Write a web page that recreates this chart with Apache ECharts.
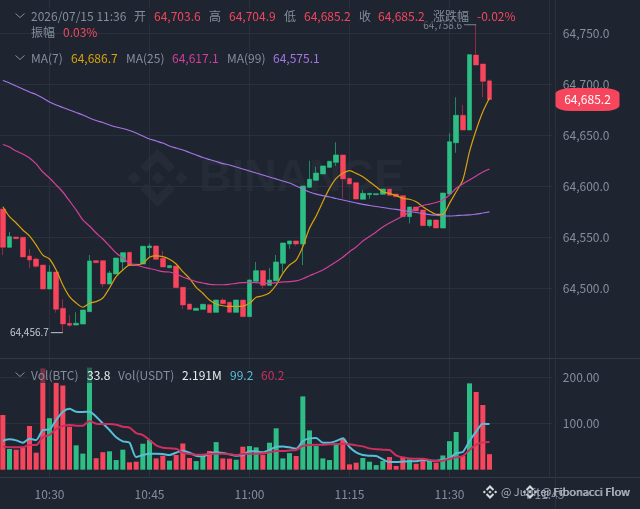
<!DOCTYPE html>
<html><head><meta charset="utf-8">
<style>html,body{margin:0;padding:0;background:#1e2530}#c{width:640px;height:509px}</style>
<script src="https://cdn.jsdelivr.net/npm/echarts@6/dist/echarts.min.js"></script>
</head><body><div id="c"></div>
<script>
const opens=[64577.9,64540.4,64550.5,64550.2,64531.9,64528.9,64523,64499.5,64516.2,64480.6,
64465.9,64464.2,64465.2,64477.3,64527.3,64527.3,64504.4,64514.2,64526,64535.5,
64524,64524,64540,64541.7,64529.6,64520.4,64522,64501.2,64484.8,64478.6,
64479.6,64484.1,64476.7,64488.7,64486.5,64476.7,64488.7,64472.4,64507.1,64517.5,
64503.1,64507.6,64524.7,64543.6,64546.6,64543.6,64599.2,64606.1,64612.3,64618.8,
64623.7,64630.9,64608,64603.7,64587.5,64592,64592,64592.4,64597.5,64592.6,
64591,64570.4,64579.9,64577,64561.6,64567.2,64559.3,64592.6,64642.9,64669.8,
64655.4,64728.9,64720.1,64703.6];
const closes=[64540.4,64550.8,64548.8,64530.9,64527.9,64521.8,64499.5,64516.2,64479.6,64465.2,
64463.9,64465.9,64478.9,64527,64525.3,64504.4,64515.2,64529.9,64535.1,64523,
64523,64541.4,64541.7,64528.6,64521.1,64522.4,64500.8,64483.8,64479.6,64480.6,
64484.5,64476.3,64488.7,64485.1,64476.7,64488.7,64472.4,64508.3,64517.5,64503.1,
64508.3,64526,64544.6,64546.6,64543.6,64600.5,64607.1,64613.2,64620.1,64624.7,
64630.9,64607.4,64602.5,64587.7,64593.3,64593.3,64592.9,64597.5,64591.4,64590,
64570.4,64579.9,64576,64561.6,64567.2,64559.3,64593.6,64643.9,64669.8,64655.4,
64729.2,64719.1,64703.1,64685.2];
const lows=[64532.8,64540.4,64548.8,64530.9,64519.8,64520.1,64499.5,64499.5,64476.3,64456.7,
64462.3,64464.2,64465.2,64477.3,64525.3,64501.2,64504.4,64514.2,64517.2,64523,
64523,64524,64530.6,64528.6,64521.1,64520.4,64500.8,64479.9,64479.6,64478.6,
64479.6,64476.3,64476.7,64485.1,64476.7,64476.7,64472.4,64472.4,64507.1,64499.8,
64503.1,64507.6,64515.5,64539,64541.7,64523,64599.2,64606.1,64612.3,64618.8,
64620.1,64588.4,64602.5,64587.7,64587.5,64588,64592,64592.4,64591.4,64590,
64570.4,64563.9,64576,64561.6,64560,64559.3,64559.3,64592.6,64633.1,64655.4,
64655.4,64719.1,64687.5,64685.2];
const highs=[64577.9,64555.4,64550.5,64550.2,64538.7,64530.4,64523,64522.7,64516.2,64489.4,
64474,64476.7,64478.9,64532.8,64527.3,64527.3,64517.2,64529.9,64535.1,64535.5,
64524,64541.4,64544.3,64541.7,64536.8,64522.4,64522,64501.2,64484.8,64480.6,
64484.5,64484.1,64488.7,64490.4,64486.5,64488.7,64488.7,64509.3,64526,64517.5,
64520.1,64532.8,64544.6,64546.6,64546.6,64600.5,64625.3,64619.4,64620.1,64624.7,
64643.3,64630.9,64608,64603.7,64596.6,64593.3,64592.9,64597.5,64597.5,64592.6,
64591,64579.9,64579.9,64577,64567.2,64567.2,64593.6,64652.2,64687.5,64679.9,
64729.2,64758.6,64720.1,64704.9];
const ma7=[64580.2,64570.4,64564.2,64557.4,64551.5,64542.6,64532.8,64528.9,64518.1,64503.4,
64492,64485.8,64481.6,64485.5,64487.1,64490.7,64500.5,64511.6,64518.1,64523,
64523,64524.7,64530.6,64531.9,64531.2,64528.6,64524,64516.5,64510,64501.2,
64495.3,64488.7,64484.8,64483.1,64482.5,64482.5,64482.8,64485.5,64491.4,64492.9,
64495.9,64503.4,64514.9,64523,64527.9,64541,64559,64571.1,64585.1,64598.2,
64608,64612.9,64615.5,64612.9,64609.6,64604.7,64599.8,64594.9,64593.3,64591,
64588.4,64587.5,64585.1,64580.2,64576,64572.7,64572.7,64583.5,64594.9,64606.4,
64634.1,64655.4,64673.3,64686.7];
const ma25=[64641.2,64638.7,64634.8,64631.9,64627.9,64622.1,64614.2,64608.3,64601.5,64594.6,
64585.8,64577,64567.2,64561.3,64554.4,64548.5,64541.7,64534.8,64529.9,64525,
64523,64521.1,64519.6,64518.1,64516.5,64516.2,64514.2,64511.3,64509,64506.7,
64505.4,64504.1,64503.7,64503.7,64504.1,64505.1,64505.7,64506.1,64505.7,64505.1,
64505.1,64505.7,64506.4,64506.7,64507.4,64509.6,64512.5,64515.2,64518.1,64522.1,
64526.3,64530.6,64536.1,64540.7,64546.6,64551,64555.4,64560.3,64564.2,64567.6,
64571.1,64575,64578.9,64581.4,64582.8,64584.3,64586.8,64591.7,64598.2,64602.5,
64606.4,64610.3,64614.2,64617.1];
const ma99=[64703.9,64701.5,64698.5,64695.6,64692.6,64690.2,64686.8,64682.8,64679.9,64677.5,
64675,64672.5,64670.1,64667.2,64664.7,64662.7,64660.3,64658.3,64656.9,64654.9,
64652.5,64649.5,64646.6,64644.6,64642.6,64639.7,64637.7,64635.8,64633.3,64630.9,
64628.4,64626.5,64624.5,64622.5,64621.1,64619.1,64617.2,64615.2,64613.2,64611.3,
64609.3,64607.4,64605.4,64603.4,64600.5,64597.5,64594.6,64592.6,64591,64589.7,
64588.2,64586.8,64585.3,64583.8,64582.4,64581.4,64580.4,64579.4,64578.4,64577.5,
64576.5,64575.5,64574.5,64573.5,64572.5,64571.8,64571.1,64571.1,64571.4,64571.8,
64572.1,64573,64574,64575.1];
const volumes=[118.8,45,43.5,48.5,95,37,220,112,189,183,
93.5,53,35,222,25,38,40,21,43.5,16,
17.4,56.5,64.5,24.6,30.4,19.6,32,57,25.4,18.8,
29.7,40.6,60,24.6,24,21.7,50,51.4,48.5,32.6,
58.7,90,24.6,36,29.7,159.4,85.5,51.4,24.6,21,
57,68,11.6,15.2,25.4,17.4,10,18.8,27.5,8,
28,22.5,13,21,18.8,15.2,31,62,82,30,
187.7,169,140.6,33.8];
const volMaFast=[63,66,63.8,58.7,67.4,64.5,86.2,87.7,108,126,
132.6,126,125.4,126,115.2,100.7,86.2,70.3,61.6,58.7,
27.5,31.9,34.8,34.8,34,31.9,37,41.3,37,30.4,
29,34.8,37.7,36.2,33.3,30.4,31.9,39.9,39.9,37.7,
42.8,50,50.7,48.6,45.7,62.3,68.1,68.8,58.7,58.7,
62.3,68.1,49.3,37.7,31.9,30.4,29.7,22.5,16.7,16.7,
17.4,18.1,18.1,21.7,19.6,19.6,21.7,24.6,36.2,38.4,
62.3,82.6,100,99.2];
const volMaSlow=[50.7,48.6,48.6,48.6,53.6,53.6,70.3,75.4,88.4,94.9,
97.1,95.7,95.7,105.8,100,99.3,99.3,97.8,93.5,91.3,
79.7,75.4,64.5,52.9,47.8,46.4,45.7,37,34,32.6,
32.6,34,34.8,34.8,34,31.9,34,34.8,34.8,35.5,
37.7,40.6,40.6,42,42.8,51.4,53.6,54.3,54.3,55.1,
55.8,56.5,55.1,52.9,50.7,46.4,44.2,43.5,42.8,31.2,
26.8,24.6,23.9,23.9,21,18.8,19.6,23.2,26.8,29.7,
42.8,54.3,59.4,60.2];

const BG='#1e2530',GRID='#2a313c',SEP='#333a46',TXT='#848e9c',RED='#f6465d',GREEN='#2ebd85',REDW='#8f2d44',GREENW='#1f8a64';
const MA7C='#d9a20c',MA25C='#d23f9c',MA99C='#a574e6',VF='#58bfd9',VS='#cf2f5f';
const FONT='"Noto Sans CJK SC","Noto Sans",sans-serif';

const times=[];
for(let m=10*60+23;m<=11*60+45;m++){times.push(Math.floor(m/60)+':'+String(m%60).padStart(2,'0'));}
const isQuarter=(i)=>{const s=times[i];return +s.split(':')[1]%15===0;};
const fmt=(v,d)=>Number(v).toLocaleString('en-US',{minimumFractionDigits:d,maximumFractionDigits:d});

const wickData=opens.map((o,i)=>[o,closes[i],lows[i],highs[i]]);
const bodyData=opens.map((o,i)=>[o,closes[i],Math.min(o,closes[i]),Math.max(o,closes[i])]);
const volData=volumes.map((v,i)=>({value:v,itemStyle:{color:closes[i]>=opens[i]?GREEN:RED}}));
const lastT=times[73];

const els=[];
const t=(text,x,y,fill,extra,size)=>els.push(Object.assign({type:'text',x:x,y:y,z:20,silent:true,style:{text:text,fill:fill,font:(size||12)+'px '+FONT,textVerticalAlign:'middle',verticalAlign:'middle'}},extra||{}));
const chev=(y)=>els.push({type:'polyline',z:20,shape:{points:[[15.5,y-2.5],[20,y+1.5],[24.5,y-2.5]]},style:{stroke:TXT,lineWidth:1,fill:null}});
const hl=(y)=>els.push({type:'line',z:1,shape:{x1:0,y1:y,x2:640,y2:y},style:{stroke:SEP,lineWidth:1}});
hl(358.5);hl(477.5);
els.push({type:'line',z:1,shape:{x1:555.5,y1:0,x2:555.5,y2:509},style:{stroke:GRID,lineWidth:1}});
els.push({type:'rect',z:15,shape:{x:27,y:8,width:492,height:16},style:{fill:'rgba(30,37,48,0.6)'}});
els.push({type:'rect',z:15,shape:{x:27,y:367,width:258,height:16},style:{fill:'rgba(30,37,48,0.6)'}});
const WM='rgba(255,255,255,0.035)';
const poly=(cx,cy,pts,fill,z)=>els.push({type:'polygon',z:z||0,silent:true,shape:{points:pts.map(p=>[cx+p[0],cy+p[1]])},style:{fill:fill}});
const dia=(cx,cy,r,fill,z)=>poly(cx,cy,[[0,-r],[r,0],[0,r],[-r,0]],fill,z);
const logo=(cx,cy,s,fill,z)=>{
  dia(cx,cy,6.5*s,fill,z);dia(cx-23.5*s,cy,6.5*s,fill,z);dia(cx+23.5*s,cy,6.5*s,fill,z);
  const up=[[0,-29],[17.5,-11.5],[11.5,-5.5],[0,-17],[-11.5,-5.5],[-17.5,-11.5]].map(p=>[p[0]*s,p[1]*s]);
  poly(cx,cy,up,fill,z);poly(cx,cy,up.map(p=>[p[0],-p[1]]),fill,z);
};
logo(157.7,178,1,WM,0);
els.push({type:'text',x:199,y:179,z:0,silent:true,style:{text:'BINANCE',fill:WM,font:'bold 45px "Liberation Sans",sans-serif',verticalAlign:'middle',textVerticalAlign:'middle'}});
chev(16);
t('2026/07/15 11:36',31,16,TXT);t('开',134,16,TXT);t('64,703.6',154,16,RED);t('高',209,16,TXT);t('64,704.9',229,16,RED);
t('低',284,16,TXT);t('64,685.2',304,16,RED);t('收',359,16,TXT);t('64,685.2',378,16,RED);t('涨跌幅',433,16,TXT);t('-0.02%',477,16,RED);
t('振幅',31,32,TXT);t('0.03%',63,32,RED);
chev(58);
t('MA(7)',31,58,TXT);t(fmt(ma7[73],1),71,58,MA7C);t('MA(25)',126,58,TXT);t(fmt(ma25[73],1),172,58,MA25C);t('MA(99)',227,58,TXT);t(fmt(ma99[73],1),273,58,MA99C);
chev(375);
t('Vol(BTC)',31,375,TXT);t(String(volumes[73]),87,375,'#eaecef');t('Vol(USDT)',118,375,TXT);t('2.191M',182,375,'#eaecef');t(String(volMaFast[73]),230,375,VF);t(String(volMaSlow[73]),261,375,VS);
logo(490,492,0.24,'#d5d9de',30);logo(530,492,0.24,'#d5d9de',30);
t('@ Jupiter Fibonacci Flow',501,492,'#a8afb9',{z:30},11);t('@ Fibonacci Flow',541,492,'#a8afb9',{z:30},11);

const line=(name,data,color,w,xi,yi)=>({name:name,type:'line',data:data,xAxisIndex:xi,yAxisIndex:yi,symbol:'none',smooth:0.25,lineStyle:{color:color,width:w},z:4,silent:true});
const extreme=(i,v,c)=>({coord:[times[i],v],symbol:'rect',symbolSize:[12,1],symbolOffset:[-6,0],itemStyle:{color:c},
  label:{show:true,position:'left',distance:2,formatter:fmt(v,1),color:c,fontSize:10,fontFamily:FONT}});

const option={
 animation:false,backgroundColor:BG,
 grid:[
  {left:-0.5,width:553.33,top:0,height:339.5,outerBoundsMode:'none'},
  {left:-0.5,width:553.33,top:331.7,height:138,outerBoundsMode:'none'},
  {left:2.83,width:546.67,top:0,height:477,outerBoundsMode:'none'}
 ],
 xAxis:[
  {type:'category',gridIndex:0,data:times,show:false},
  {type:'category',gridIndex:1,data:times,show:false},
  {type:'category',gridIndex:2,data:times,boundaryGap:false,axisLine:{show:false},axisTick:{show:false},
   splitLine:{show:true,interval:(i)=>isQuarter(i),lineStyle:{color:GRID,width:1}},
   axisLabel:{interval:(i)=>isQuarter(i),color:TXT,fontSize:12,fontFamily:FONT,margin:11}}
 ],
 yAxis:[
  {type:'value',gridIndex:0,position:'right',min:64450,max:64782.84,interval:50,axisLine:{show:false},axisTick:{show:false},
   splitLine:{show:true,showMinLine:false,showMaxLine:false,lineStyle:{color:GRID,width:1}},
   axisLabel:{showMinLabel:false,showMaxLabel:false,margin:10,color:TXT,fontSize:12,fontFamily:FONT,formatter:(v)=>fmt(v,1)}},
  {type:'value',gridIndex:1,position:'right',min:0,max:300,interval:100,axisLine:{show:false},axisTick:{show:false},
   splitLine:{show:true,showMinLine:false,showMaxLine:false,lineStyle:{color:GRID,width:1}},
   axisLabel:{showMinLabel:false,showMaxLabel:false,margin:10,color:TXT,fontSize:12,fontFamily:FONT,formatter:(v)=>v.toFixed(2)}},
  {type:'value',gridIndex:2,show:false}
 ],
 series:[
  {name:'wick',type:'candlestick',data:wickData,xAxisIndex:0,yAxisIndex:0,barWidth:5,z:2,silent:true,
   itemStyle:{color:GREENW,color0:REDW,borderColor:GREENW,borderColor0:REDW,borderWidth:1},
   markPoint:{silent:true,animation:false,z:12,data:[extreme(71,highs[71],'#7d8591'),extreme(9,lows[9],'#c4cad2')]}},
  {name:'body',type:'candlestick',data:bodyData,xAxisIndex:0,yAxisIndex:0,barWidth:5,z:3,silent:true,
   itemStyle:{color:GREEN,color0:RED,borderColor:GREEN,borderColor0:RED,borderWidth:0},
   markPoint:{silent:true,animation:false,z:25,data:[{coord:[lastT,closes[73]],symbol:'roundRect',symbolSize:[64,23],symbolOffset:[98,0],
     itemStyle:{color:RED},label:{show:true,position:'inside',formatter:fmt(closes[73],1),color:'#fff',fontSize:12,fontFamily:FONT}}]}},
  line('MA7',ma7,MA7C,1.2,0,0),line('MA25',ma25,MA25C,1.2,0,0),line('MA99',ma99,MA99C,1.2,0,0),
  {name:'Vol',type:'bar',data:volData,xAxisIndex:1,yAxisIndex:1,barWidth:5,z:2,silent:true},
  line('VolMaFast',volMaFast,VF,2,1,1),line('VolMaSlow',volMaSlow,VS,2,1,1)
 ],
 graphic:{elements:els}
};
const chart=echarts.init(document.getElementById('c'),null,{renderer:'canvas'});
chart.setOption(option);
</script></body></html>
